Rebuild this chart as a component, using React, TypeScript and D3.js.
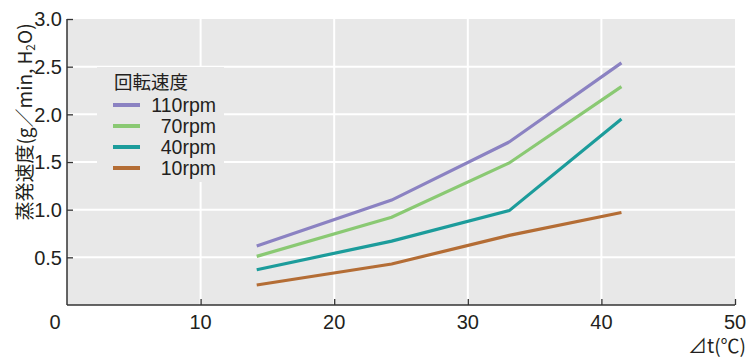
import React, { useEffect, useRef } from 'react';
import * as d3 from 'd3';

const dt = [14.2, 24.3, 33.1, 41.5];
const rpm110 = [0.62, 1.1, 1.71, 2.54];
const rpm70 = [0.51, 0.92, 1.49, 2.29];
const rpm40 = [0.37, 0.67, 0.99, 1.95];
const rpm10 = [0.21, 0.43, 0.73, 0.97];
const seriesNames = ['110rpm', '70rpm', '40rpm', '10rpm'];
const xTicks = [10, 20, 30, 40, 50];
const yTicks = [0.5, 1.0, 1.5, 2.0, 2.5, 3.0];

const colors = ['#8b82c2', '#8ac973', '#1c9c9b', '#b46d35'];
const FONT = '"Liberation Sans", Arial, sans-serif';
const JP = '"Noto Sans CJK JP", sans-serif';

const App = () => {
  const svgRef = useRef(null);

  useEffect(() => {
    const W = 755;
    const H = 360;
    const margin = { top: 19, right: 20, bottom: 55, left: 67 };
    const width = W - margin.left - margin.right;
    const height = H - margin.top - margin.bottom;

    const root = d3.select(svgRef.current).attr('width', W).attr('height', H);
    root.selectAll('*').remove();
    root.append('rect').attr('width', W).attr('height', H).attr('fill', '#fff');

    const svg = root.append('g').attr('transform', `translate(${margin.left},${margin.top})`);

    const x = d3.scaleLinear().domain([0, 50]).range([0, width]);
    const y = d3.scaleLinear().domain([0, 3]).range([height, 0]);

    svg.append('rect').attr('width', width).attr('height', height).attr('fill', '#e8e8e8');

    // grid
    svg
      .selectAll('.vgrid')
      .data(xTicks.slice(0, -1))
      .enter()
      .append('line')
      .attr('x1', (d) => x(d))
      .attr('x2', (d) => x(d))
      .attr('y1', 0)
      .attr('y2', height)
      .attr('stroke', '#fff')
      .attr('stroke-width', 2);
    svg
      .selectAll('.hgrid')
      .data(yTicks.slice(0, -1))
      .enter()
      .append('line')
      .attr('x1', 0)
      .attr('x2', width)
      .attr('y1', (d) => y(d))
      .attr('y2', (d) => y(d))
      .attr('stroke', '#fff')
      .attr('stroke-width', 2);

    // legend background covers the grid
    svg.append('rect').attr('x', 30).attr('y', 48).attr('width', 127).attr('height', 115).attr('fill', '#e8e8e8');

    // axes
    const xAxis = d3.axisBottom(x).tickValues(xTicks).tickSize(-6).tickFormat(() => '');
    const yAxis = d3.axisLeft(y).tickValues(yTicks).tickSize(-6).tickFormat(() => '');
    const gx = svg.append('g').attr('transform', `translate(0,${height})`).call(xAxis);
    const gy = svg.append('g').call(yAxis);
    [gx, gy].forEach((g) => {
      g.select('.domain').attr('stroke', '#333').attr('stroke-width', 1.5);
      g.selectAll('.tick line').attr('stroke', '#333').attr('stroke-width', 1.3);
    });
    gx.select('.domain').attr('d', `M0,0H${width}`);
    gy.select('.domain').attr('d', `M0,${height}V0`);

    // tick labels
    svg
      .selectAll('.xl')
      .data(xTicks)
      .enter()
      .append('text')
      .attr('x', (d) => x(d))
      .attr('y', height + 24)
      .attr('text-anchor', 'middle')
      .attr('font-family', FONT)
      .attr('font-size', 20)
      .attr('fill', '#231f20')
      .text((d) => d);
    svg
      .append('text')
      .attr('x', -12)
      .attr('y', height + 24)
      .attr('text-anchor', 'middle')
      .attr('font-family', FONT)
      .attr('font-size', 20)
      .attr('fill', '#231f20')
      .text('0');
    svg
      .selectAll('.yl')
      .data(yTicks)
      .enter()
      .append('text')
      .attr('x', -5)
      .attr('y', (d) => y(d))
      .attr('dy', '0.36em')
      .attr('text-anchor', 'end')
      .attr('font-family', FONT)
      .attr('font-size', 20)
      .attr('fill', '#231f20')
      .text((d) => d.toFixed(1));

    // lines
    const all = [rpm110, rpm70, rpm40, rpm10];
    const line = d3
      .line()
      .x((d, i) => x(dt[i]))
      .y((d) => y(d));
    all.forEach((s, k) => {
      svg
        .append('path')
        .datum(s)
        .attr('d', line)
        .attr('fill', 'none')
        .attr('stroke', colors[k])
        .attr('stroke-width', 3.2);
    });

    // legend
    svg
      .append('text')
      .attr('x', 47)
      .attr('y', 70)
      .attr('font-family', JP)
      .attr('font-size', 18.5)
      .attr('fill', '#231f20')
      .text('回転速度');
    seriesNames.forEach((name, k) => {
      const ly = 86 + k * 21;
      svg
        .append('line')
        .attr('x1', 46)
        .attr('x2', 73)
        .attr('y1', ly)
        .attr('y2', ly)
        .attr('stroke', colors[k])
        .attr('stroke-width', 4);
      svg
        .append('text')
        .attr('x', 149)
        .attr('y', ly)
        .attr('dy', '0.36em')
        .attr('text-anchor', 'end')
        .attr('font-family', FONT)
        .attr('font-size', 19.5)
        .attr('fill', '#231f20')
        .text(name);
    });

    // axis titles
    const yt = root
      .append('text')
      .attr('transform', 'translate(32,122) rotate(-90)')
      .attr('text-anchor', 'middle')
      .attr('font-family', JP)
      .attr('font-size', 19)
      .attr('fill', '#231f20');
    yt.append('tspan').text('蒸発速度(g／min, H');
    yt.append('tspan').attr('font-size', 12).attr('dy', 3).text('2');
    yt.append('tspan').attr('dy', -3).text('O)');

    root
      .append('text')
      .attr('x', 746)
      .attr('y', 353)
      .attr('text-anchor', 'end')
      .attr('font-family', JP)
      .attr('font-size', 19)
      .attr('fill', '#231f20')
      .text('⊿t(℃)');
  }, []);

  return <svg ref={svgRef} style={{ position: 'absolute', left: 0, top: 0 }}></svg>;
};

export default App;
